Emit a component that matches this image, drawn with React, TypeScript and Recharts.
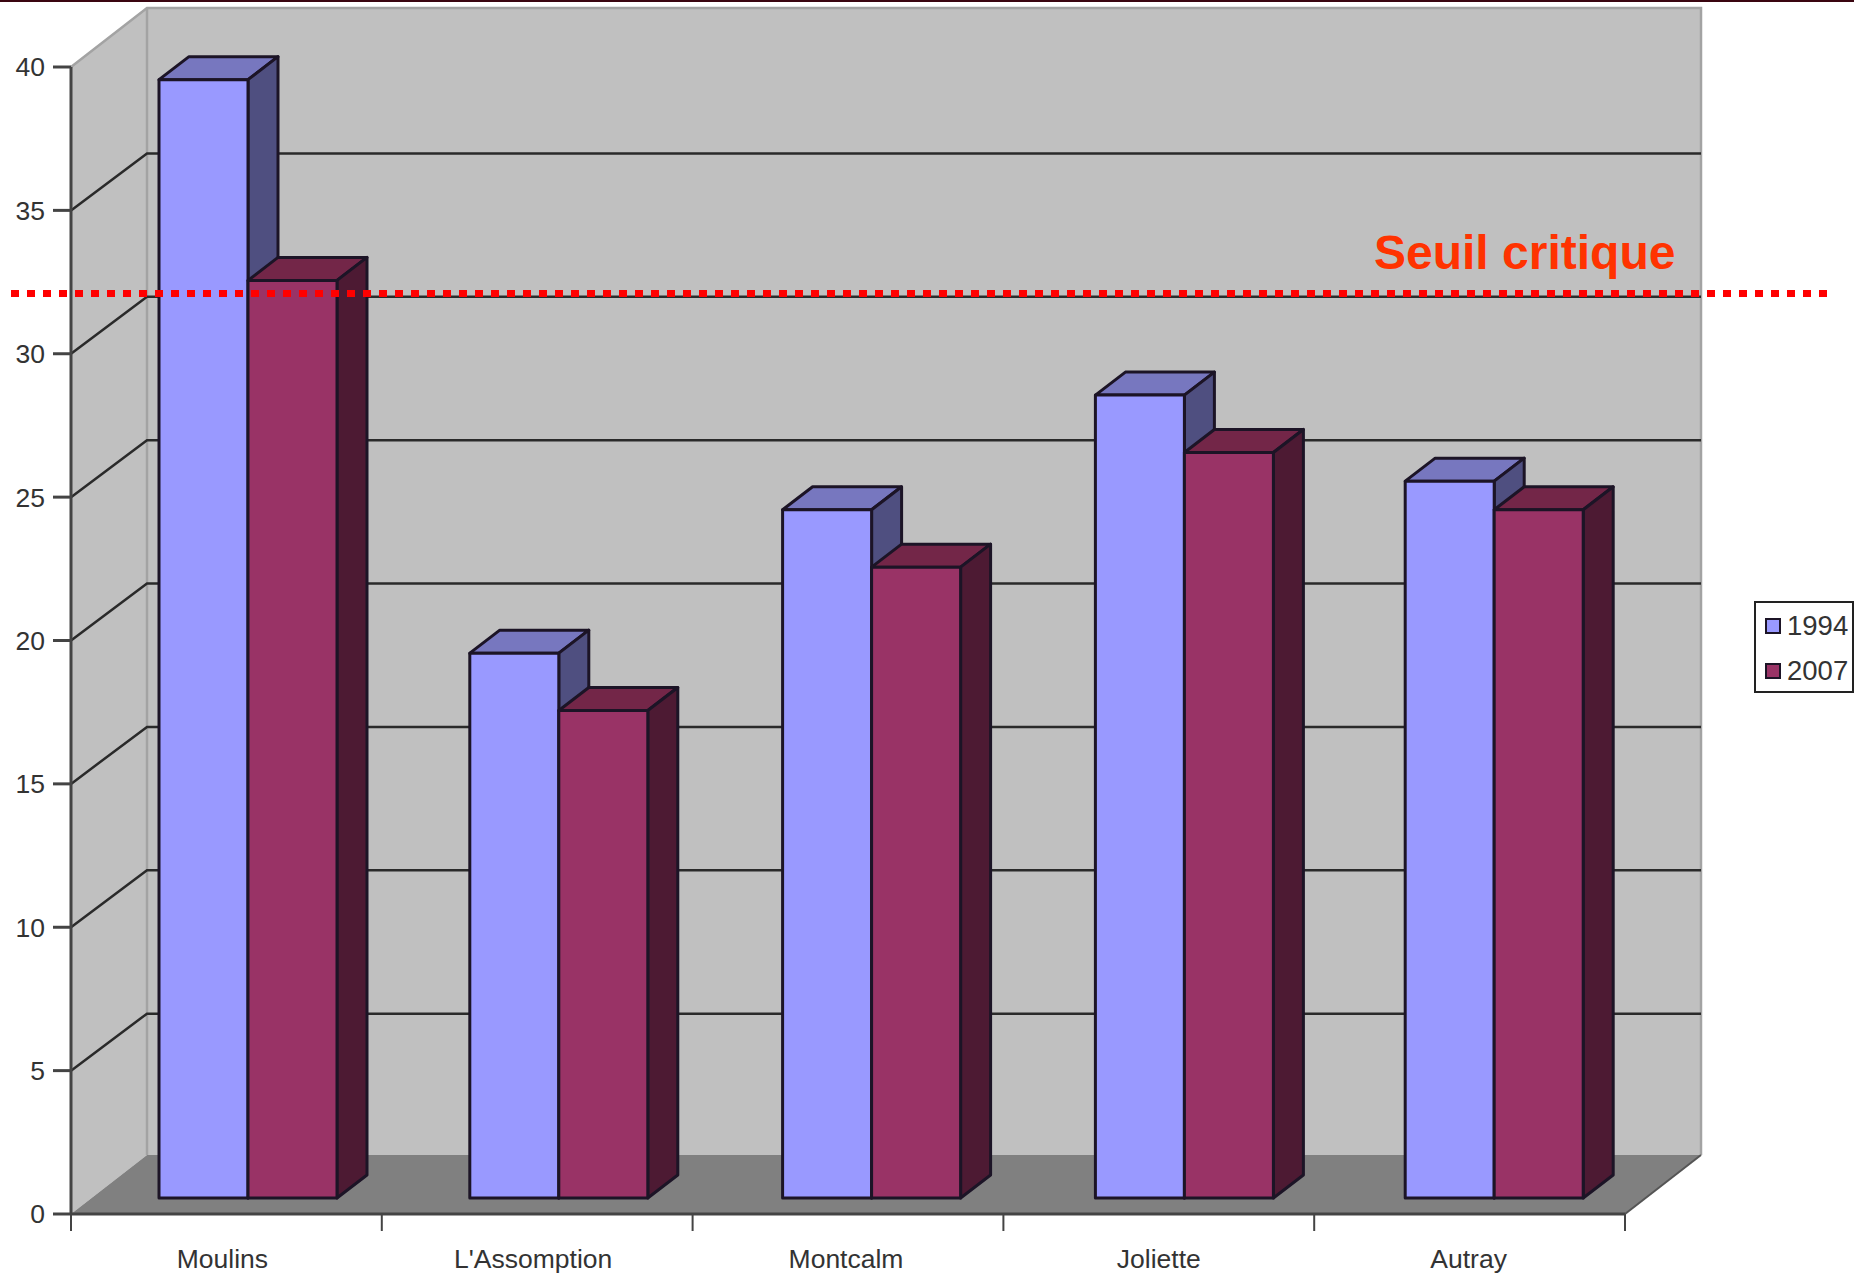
import React from 'react'
import {
  BarChart,
  Bar,
  XAxis,
  YAxis,
  CartesianGrid,
  Legend,
  ReferenceLine
} from 'recharts'

const categories = ['Moulins', "L'Assomption", 'Montcalm', 'Joliette', 'Autray']
const values1994 = [39, 19, 24, 28, 25]
const values2007 = [32, 17, 22, 26, 24]
const yTicks = [0, 5, 10, 15, 20, 25, 30, 35, 40]
const seuilCritique = 32.1

const data = categories.map((name, i) => ({
  name,
  '1994': values1994[i],
  '2007': values2007[i]
}))

const WIDTH = 1854
const HEIGHT = 1277
const PLOT = { left: 71, right: 1625, top: 67, bottom: 1214 }
const BAND = (PLOT.right - PLOT.left) / categories.length
// offset of the back wall from the front plane
const WALL_DX = 76
const WALL_DY = 59
const GRID_DY = 57
// bars stand a little behind the front plane, and have their own depth
const BAR_DX = 22
const BAR_DY = 16
const DEPTH_X = 30
const DEPTH_Y = 23
// the original's groups are not quite evenly spaced
const GROUP_NUDGE = [0, 0, 2, 4, 3]

const OUTLINE = '#1c1426'
const FONT = '"Liberation Sans", Arial, sans-serif'

function Walls() {
  const backTop = PLOT.top - WALL_DY
  const backBottom = PLOT.bottom - WALL_DY
  const backLeft = PLOT.left + WALL_DX
  const backRight = PLOT.right + WALL_DX
  return (
    <svg width={WIDTH} height={HEIGHT} style={{ position: 'absolute', left: 0, top: 0 }}>
      <polygon
        points={`${PLOT.left},${PLOT.top} ${backLeft},${backTop} ${backLeft},${backBottom} ${PLOT.left},${PLOT.bottom}`}
        fill="#c0c0c0"
      />
      <rect x={backLeft} y={backTop} width={backRight - backLeft} height={backBottom - backTop} fill="#c0c0c0" />
      <polygon
        points={`${PLOT.left},${PLOT.bottom} ${backLeft},${backBottom} ${backRight},${backBottom} ${PLOT.right},${PLOT.bottom}`}
        fill="#808080"
      />
      <polyline
        points={`${PLOT.left},${PLOT.top} ${backLeft},${backTop} ${backRight},${backTop} ${backRight},${backBottom}`}
        fill="none"
        stroke="#a3a3a3"
        strokeWidth={2.5}
      />
      <line x1={backLeft} y1={backTop} x2={backLeft} y2={backBottom} stroke="#a3a3a3" strokeWidth={2.5} />
      <line x1={PLOT.right} y1={PLOT.bottom} x2={backRight} y2={backBottom} stroke="#555" strokeWidth={2} />
    </svg>
  )
}

function gridLine(props: any) {
  const { x1, x2, y1, key } = props
  // the top and the floor have no dark line
  if (Math.abs(y1 - PLOT.top) < 1 || Math.abs(y1 - PLOT.bottom) < 1) return <g key={key} />
  return (
    <polyline
      key={key}
      points={`${x1},${y1} ${x1 + WALL_DX},${y1 - GRID_DY} ${x2 + WALL_DX},${y1 - GRID_DY}`}
      fill="none"
      stroke="#2a2a2a"
      strokeWidth={2.5}
    />
  )
}

function Bar3D({ x, y, width, height, fill, top, side, index }: any) {
  const fx = x + BAR_DX + GROUP_NUDGE[index]
  const fy = y - BAR_DY
  const bottom = fy + height
  return (
    <g stroke={OUTLINE} strokeWidth={3} strokeLinejoin="round">
      <polygon
        points={`${fx},${fy} ${fx + DEPTH_X},${fy - DEPTH_Y} ${fx + width + DEPTH_X},${fy - DEPTH_Y} ${fx + width},${fy}`}
        fill={top}
      />
      <polygon
        points={`${fx + width},${fy} ${fx + width + DEPTH_X},${fy - DEPTH_Y} ${fx + width + DEPTH_X},${bottom - DEPTH_Y} ${fx + width},${bottom}`}
        fill={side}
      />
      <rect x={fx} y={fy} width={width} height={height} fill={fill} />
    </g>
  )
}

function CategoryTick({ x, payload, index }: any) {
  return (
    <g>
      <line x1={x - BAND / 2} y1={PLOT.bottom} x2={x - BAND / 2} y2={PLOT.bottom + 17} stroke="#444" strokeWidth={2} />
      {index === categories.length - 1 && (
        <line x1={x + BAND / 2} y1={PLOT.bottom} x2={x + BAND / 2} y2={PLOT.bottom + 17} stroke="#444" strokeWidth={2} />
      )}
      <text x={x - 4 + GROUP_NUDGE[index]} y={1268} textAnchor="middle" fontSize={26.5} fontFamily={FONT} fill="#333">
        {payload.value}
      </text>
    </g>
  )
}

function SeuilLine({ y1 }: any) {
  return (
    <g>
      <line x1={11} y1={y1} x2={1829} y2={y1} stroke="#ff0000" strokeWidth={7} strokeDasharray="8 8" />
      <text x={1374} y={y1 - 25} fontSize={48} fontWeight="bold" fontFamily={FONT} fill="#ff3300">
        Seuil critique
      </text>
    </g>
  )
}

function LegendBox({ payload }: any) {
  return (
    <div
      style={{
        width: 100,
        height: 92,
        boxSizing: 'border-box',
        border: '2px solid #222',
        background: '#fff',
        fontFamily: FONT,
        fontSize: 27.5,
        color: '#333',
        paddingTop: 0
      }}
    >
      {(payload || []).map((item: any) => (
        <div key={item.value} style={{ display: 'flex', alignItems: 'center', height: 45 }}>
          <span
            style={{
              display: 'inline-block',
              boxSizing: 'border-box',
              width: 16,
              height: 16,
              marginLeft: 9,
              marginRight: 6,
              background: item.color,
              border: `2px solid ${OUTLINE}`
            }}
          />
          {item.value}
        </div>
      ))}
    </div>
  )
}

export default function App() {
  return (
    <div style={{ position: 'absolute', left: 0, top: 0, width: WIDTH, height: HEIGHT, background: '#fff' }}>
      <div style={{ position: 'absolute', left: 0, top: 0, width: WIDTH, height: 2, background: '#3a0510' }} />
      <Walls />
      <div style={{ position: 'absolute', left: 0, top: 0 }}>
        <BarChart
          width={WIDTH}
          height={HEIGHT}
          data={data}
          barSize={89}
          barGap={0}
          margin={{ top: PLOT.top, right: WIDTH - PLOT.right, bottom: 0, left: 11 }}
        >
          <CartesianGrid vertical={false} horizontal={gridLine} />
          <XAxis
            dataKey="name"
            height={HEIGHT - PLOT.bottom}
            stroke="#444"
            strokeWidth={3}
            tickLine={false}
            tick={<CategoryTick />}
            interval={0}
          />
          <YAxis
            width={60}
            domain={[0, 40]}
            ticks={yTicks}
            interval={0}
            stroke="#444"
            strokeWidth={3}
            tickSize={18}
            tickMargin={8}
            tick={{ fontSize: 26.5, fontFamily: FONT, fill: '#333' }}
          />
          <Legend
            layout="horizontal"
            verticalAlign="middle"
            content={<LegendBox />}
            wrapperStyle={{ left: 1754, top: 601, width: 100, height: 92 }}
          />
          <Bar
            dataKey="1994"
            fill="#9999ff"
            isAnimationActive={false}
            shape={(p: any) => <Bar3D {...p} top="#7777bf" side="#4f4f80" />}
          />
          <Bar
            dataKey="2007"
            fill="#993366"
            isAnimationActive={false}
            shape={(p: any) => <Bar3D {...p} top="#732648" side="#4d1a33" />}
          />
          <ReferenceLine y={seuilCritique} shape={<SeuilLine />} />
        </BarChart>
      </div>
    </div>
  )
}
